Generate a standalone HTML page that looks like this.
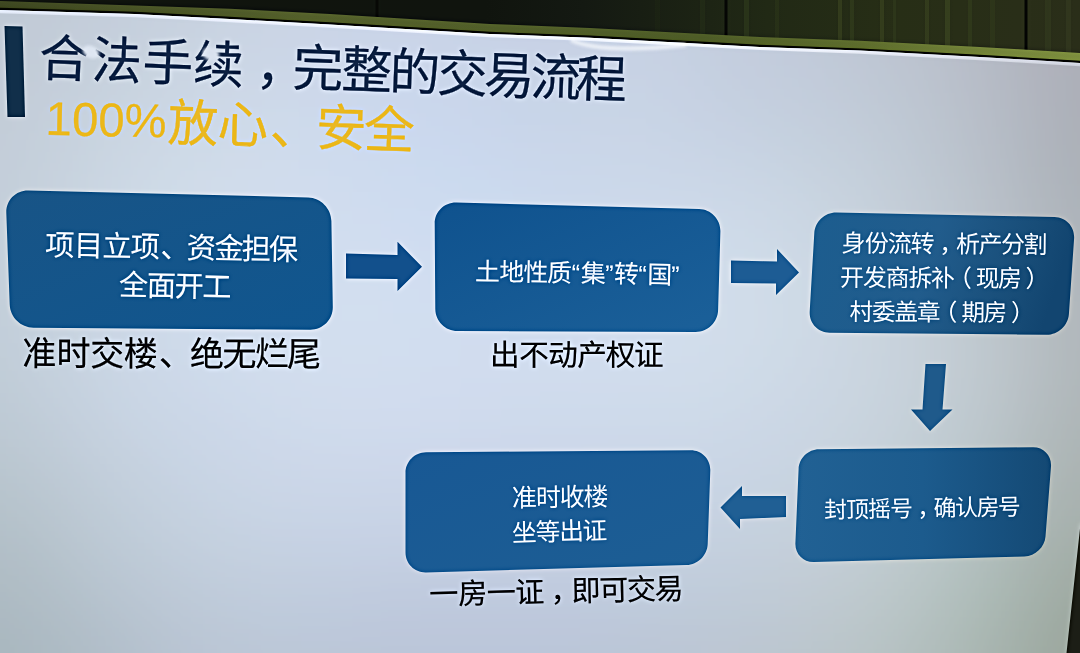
<!DOCTYPE html>
<html lang="zh"><head><meta charset="utf-8"><title>合法手续，完整的交易流程</title>
<style>
html,body{margin:0;padding:0;background:#10140b}
body{width:1080px;height:653px;overflow:hidden;position:relative;font-family:"Liberation Sans",sans-serif}
svg{position:absolute;left:0;top:0;display:block}
svg text{font-family:"Liberation Sans","Noto Sans CJK SC",sans-serif}
.t{position:absolute;white-space:nowrap;line-height:1;color:transparent;transform-origin:0 88%;margin:0}
</style></head><body>
<svg width="1080" height="653" viewBox="0 0 1080 653">
<defs>
<filter id="smudge" x="-50%" y="-50%" width="200%" height="200%"><feGaussianBlur stdDeviation="1.8"/></filter>
<linearGradient id="wall" gradientUnits="userSpaceOnUse" x1="0" y1="0" x2="1080" y2="0">
<stop offset="0" stop-color="#10140d"/><stop offset=".45" stop-color="#10140e"/><stop offset=".54" stop-color="#141912"/>
<stop offset=".71" stop-color="#212915"/><stop offset=".83" stop-color="#272e16"/><stop offset="1" stop-color="#2a2e19"/>
</linearGradient>
<linearGradient id="bezel" gradientUnits="userSpaceOnUse" x1="0" y1="0" x2="1080" y2="0">
<stop offset="0" stop-color="#3c4520"/><stop offset=".28" stop-color="#525e2a"/><stop offset=".65" stop-color="#4c5a26"/><stop offset=".8" stop-color="#5c6b2c"/><stop offset=".94" stop-color="#74843a"/><stop offset="1" stop-color="#7a8a3c"/>
</linearGradient>
<linearGradient id="edge" gradientUnits="userSpaceOnUse" x1="0" y1="0" x2="1080" y2="0"><stop offset="0" stop-color="#dce3f0"/><stop offset=".3" stop-color="#e8ecf8"/><stop offset=".65" stop-color="#eef2fa"/><stop offset=".85" stop-color="#dde1ea"/><stop offset="1" stop-color="#cbcfd8"/></linearGradient>
<linearGradient id="b1" x1="0" y1="0" x2="1" y2="1"><stop offset="0" stop-color="#185486"/><stop offset="1" stop-color="#10568f"/></linearGradient>
<linearGradient id="b2" x1="0" y1="0" x2="1" y2="1"><stop offset="0" stop-color="#0f528e"/><stop offset="1" stop-color="#1b6099"/></linearGradient>
<linearGradient id="b3" x1="0" y1="0" x2="1" y2="0.15"><stop offset="0" stop-color="#1c5d8f"/><stop offset=".5" stop-color="#215c8c"/><stop offset=".85" stop-color="#184d78"/><stop offset="1" stop-color="#124570"/></linearGradient>
<linearGradient id="b4" x1="0" y1="0" x2="1" y2="0"><stop offset="0" stop-color="#216194"/><stop offset=".5" stop-color="#1c5b8d"/><stop offset="1" stop-color="#144974"/></linearGradient>
<linearGradient id="b5" x1="0" y1="0" x2="1" y2="1"><stop offset="0" stop-color="#185894"/><stop offset="1" stop-color="#1d5e94"/></linearGradient>
<clipPath id="scrclip"><polygon points="-40.0,8.4 0.0,10.0 135.0,14.0 230.0,19.0 330.0,24.5 490.0,34.0 590.0,37.8 760.0,46.9 860.0,50.6 980.0,57.0 1080.0,63.0 1120.0,65.4 1120.0,693.0 -40.0,693.0"/></clipPath>
<filter id="bgblur" filterUnits="userSpaceOnUse" x="-120" y="-120" width="1320" height="900"><feGaussianBlur stdDeviation="30"/></filter>
<filter id="soft" filterUnits="userSpaceOnUse" x="-30" y="-30" width="1140" height="713" color-interpolation-filters="sRGB"><feGaussianBlur in="SourceGraphic" stdDeviation="0.7" result="a"/><feGaussianBlur in="a" stdDeviation="2" result="b"/><feComposite in="a" in2="b" operator="arithmetic" k1="0" k2="1.3" k3="-0.3" k4="0"/></filter>
</defs>
<g filter="url(#soft)">
<rect x="-40" y="-40" width="1160" height="120" fill="url(#wall)"/>
<rect x="744" y="-40" width="5" height="120" fill="#2e3a1c" opacity="0.60"/>
<rect x="775" y="-40" width="4" height="120" fill="#2c3619" opacity="0.50"/>
<rect x="838" y="-40" width="4" height="120" fill="#3a4520" opacity="0.60"/>
<rect x="850" y="-40" width="4" height="120" fill="#36411e" opacity="0.50"/>
<rect x="880" y="-40" width="4" height="120" fill="#3a4520" opacity="0.60"/>
<rect x="893" y="-40" width="3" height="120" fill="#323c1c" opacity="0.50"/>
<rect x="925" y="-40" width="4" height="120" fill="#3a4520" opacity="0.55"/>
<rect x="945" y="-40" width="5" height="120" fill="#3c4722" opacity="0.60"/>
<rect x="968" y="-40" width="4" height="120" fill="#343f1d" opacity="0.50"/>
<rect x="990" y="-40" width="5" height="120" fill="#323c1c" opacity="0.45"/>
<rect x="1045" y="-40" width="6" height="120" fill="#343b20" opacity="0.50"/>
<rect x="1066" y="-40" width="5" height="120" fill="#353c21" opacity="0.50"/>
<rect x="700" y="-40" width="5" height="120" fill="#262f17" opacity="0.50"/>
<rect x="655" y="-40" width="5" height="120" fill="#1e2613" opacity="0.50"/>
<rect x="375.5" y="-40" width="3" height="120" fill="#080a06"/>
<rect x="724.5" y="-40" width="3" height="120" fill="#080a06"/>
<rect x="1024.5" y="-40" width="3" height="120" fill="#080a06"/>
<polygon points="-40.0,-0.4 0.0,1.0 135.0,5.6 230.0,8.8 330.0,13.9 490.0,23.9 590.0,28.0 760.0,37.1 860.0,40.8 980.0,46.9 1080.0,52.9 1120.0,55.3 1120.0,64.2 1080.0,61.8 980.0,55.8 860.0,49.4 760.0,45.7 590.0,36.6 490.0,32.8 330.0,23.3 230.0,17.8 135.0,12.8 0.0,8.8 -40.0,7.2" fill="url(#bezel)"/>
<polygon points="-40.0,6.2 0.0,7.8 135.0,11.8 230.0,16.8 330.0,22.3 490.0,31.8 590.0,35.6 760.0,44.7 860.0,48.4 980.0,54.8 1080.0,60.8 1120.0,63.2 1120.0,65.4 1080.0,63.0 980.0,57.0 860.0,50.6 760.0,46.9 590.0,37.8 490.0,34.0 330.0,24.5 230.0,19.0 135.0,14.0 0.0,10.0 -40.0,8.4" fill="#15180f"/>
<g clip-path="url(#scrclip)"><g filter="url(#bgblur)"><rect x="-80" y="-80" width="41" height="41" fill="#bfc8d4"/><rect x="-40" y="-80" width="41" height="41" fill="#bfc8d4"/><rect x="0" y="-80" width="41" height="41" fill="#c0c9d5"/><rect x="40" y="-80" width="41" height="41" fill="#c1cbd7"/><rect x="80" y="-80" width="41" height="41" fill="#c3ccd9"/><rect x="120" y="-80" width="41" height="41" fill="#c5cedc"/><rect x="160" y="-80" width="41" height="41" fill="#c6d0de"/><rect x="200" y="-80" width="41" height="41" fill="#c8d1e0"/><rect x="240" y="-80" width="41" height="41" fill="#c9d2e2"/><rect x="280" y="-80" width="41" height="41" fill="#c9d3e4"/><rect x="320" y="-80" width="41" height="41" fill="#c9d3e5"/><rect x="360" y="-80" width="41" height="41" fill="#c9d3e6"/><rect x="400" y="-80" width="41" height="41" fill="#c9d2e6"/><rect x="440" y="-80" width="41" height="41" fill="#c8d2e5"/><rect x="480" y="-80" width="41" height="41" fill="#c7d1e5"/><rect x="520" y="-80" width="41" height="41" fill="#c7d1e4"/><rect x="560" y="-80" width="41" height="41" fill="#c7d0e3"/><rect x="600" y="-80" width="41" height="41" fill="#c6d0e2"/><rect x="640" y="-80" width="41" height="41" fill="#c5cfe0"/><rect x="680" y="-80" width="41" height="41" fill="#c4cdde"/><rect x="720" y="-80" width="41" height="41" fill="#c3cbdc"/><rect x="760" y="-80" width="41" height="41" fill="#c1c9d9"/><rect x="800" y="-80" width="41" height="41" fill="#bfc7d6"/><rect x="840" y="-80" width="41" height="41" fill="#bec4d3"/><rect x="880" y="-80" width="41" height="41" fill="#bbc1cf"/><rect x="920" y="-80" width="41" height="41" fill="#b9beca"/><rect x="960" y="-80" width="41" height="41" fill="#b5b9c5"/><rect x="1000" y="-80" width="41" height="41" fill="#b2b4bf"/><rect x="1040" y="-80" width="41" height="41" fill="#aeafb9"/><rect x="1080" y="-80" width="41" height="41" fill="#acadb6"/><rect x="1120" y="-80" width="41" height="41" fill="#acadb6"/><rect x="-80" y="-40" width="41" height="41" fill="#bfc8d4"/><rect x="-40" y="-40" width="41" height="41" fill="#bfc8d4"/><rect x="0" y="-40" width="41" height="41" fill="#c0c9d5"/><rect x="40" y="-40" width="41" height="41" fill="#c1cbd7"/><rect x="80" y="-40" width="41" height="41" fill="#c3ccd9"/><rect x="120" y="-40" width="41" height="41" fill="#c5cedc"/><rect x="160" y="-40" width="41" height="41" fill="#c6d0de"/><rect x="200" y="-40" width="41" height="41" fill="#c8d1e0"/><rect x="240" y="-40" width="41" height="41" fill="#c9d2e2"/><rect x="280" y="-40" width="41" height="41" fill="#c9d3e4"/><rect x="320" y="-40" width="41" height="41" fill="#c9d3e5"/><rect x="360" y="-40" width="41" height="41" fill="#c9d3e6"/><rect x="400" y="-40" width="41" height="41" fill="#c9d2e6"/><rect x="440" y="-40" width="41" height="41" fill="#c8d2e5"/><rect x="480" y="-40" width="41" height="41" fill="#c7d1e5"/><rect x="520" y="-40" width="41" height="41" fill="#c7d1e4"/><rect x="560" y="-40" width="41" height="41" fill="#c7d0e3"/><rect x="600" y="-40" width="41" height="41" fill="#c6d0e2"/><rect x="640" y="-40" width="41" height="41" fill="#c5cfe0"/><rect x="680" y="-40" width="41" height="41" fill="#c4cdde"/><rect x="720" y="-40" width="41" height="41" fill="#c3cbdc"/><rect x="760" y="-40" width="41" height="41" fill="#c1c9d9"/><rect x="800" y="-40" width="41" height="41" fill="#bfc7d6"/><rect x="840" y="-40" width="41" height="41" fill="#bec4d3"/><rect x="880" y="-40" width="41" height="41" fill="#bbc1cf"/><rect x="920" y="-40" width="41" height="41" fill="#b9beca"/><rect x="960" y="-40" width="41" height="41" fill="#b5b9c5"/><rect x="1000" y="-40" width="41" height="41" fill="#b2b4bf"/><rect x="1040" y="-40" width="41" height="41" fill="#aeafb9"/><rect x="1080" y="-40" width="41" height="41" fill="#acadb6"/><rect x="1120" y="-40" width="41" height="41" fill="#acadb6"/><rect x="-80" y="0" width="41" height="41" fill="#c0c9d5"/><rect x="-40" y="0" width="41" height="41" fill="#c0c9d5"/><rect x="0" y="0" width="41" height="41" fill="#c0cad6"/><rect x="40" y="0" width="41" height="41" fill="#c2ccd8"/><rect x="80" y="0" width="41" height="41" fill="#c4cdda"/><rect x="120" y="0" width="41" height="41" fill="#c5cfdd"/><rect x="160" y="0" width="41" height="41" fill="#c7d1df"/><rect x="200" y="0" width="41" height="41" fill="#c9d3e1"/><rect x="240" y="0" width="41" height="41" fill="#cad4e3"/><rect x="280" y="0" width="41" height="41" fill="#cad4e5"/><rect x="320" y="0" width="41" height="41" fill="#cad4e6"/><rect x="360" y="0" width="41" height="41" fill="#cad4e7"/><rect x="400" y="0" width="41" height="41" fill="#c9d3e7"/><rect x="440" y="0" width="41" height="41" fill="#c8d3e6"/><rect x="480" y="0" width="41" height="41" fill="#c8d2e5"/><rect x="520" y="0" width="41" height="41" fill="#c7d1e4"/><rect x="560" y="0" width="41" height="41" fill="#c7d1e4"/><rect x="600" y="0" width="41" height="41" fill="#c7d1e3"/><rect x="640" y="0" width="41" height="41" fill="#c6d0e1"/><rect x="680" y="0" width="41" height="41" fill="#c5cedf"/><rect x="720" y="0" width="41" height="41" fill="#c3ccdd"/><rect x="760" y="0" width="41" height="41" fill="#c1cada"/><rect x="800" y="0" width="41" height="41" fill="#c0c8d7"/><rect x="840" y="0" width="41" height="41" fill="#bec6d3"/><rect x="880" y="0" width="41" height="41" fill="#bcc2cf"/><rect x="920" y="0" width="41" height="41" fill="#b9bfcb"/><rect x="960" y="0" width="41" height="41" fill="#b6bac5"/><rect x="1000" y="0" width="41" height="41" fill="#b2b5c0"/><rect x="1040" y="0" width="41" height="41" fill="#aeb0ba"/><rect x="1080" y="0" width="41" height="41" fill="#acadb7"/><rect x="1120" y="0" width="41" height="41" fill="#acadb7"/><rect x="-80" y="40" width="41" height="41" fill="#c0cad6"/><rect x="-40" y="40" width="41" height="41" fill="#c0cad6"/><rect x="0" y="40" width="41" height="41" fill="#c2cbd7"/><rect x="40" y="40" width="41" height="41" fill="#c4cdda"/><rect x="80" y="40" width="41" height="41" fill="#c5d0dc"/><rect x="120" y="40" width="41" height="41" fill="#c7d2df"/><rect x="160" y="40" width="41" height="41" fill="#c9d4e1"/><rect x="200" y="40" width="41" height="41" fill="#cbd5e4"/><rect x="240" y="40" width="41" height="41" fill="#cbd6e6"/><rect x="280" y="40" width="41" height="41" fill="#ccd6e7"/><rect x="320" y="40" width="41" height="41" fill="#cbd6e9"/><rect x="360" y="40" width="41" height="41" fill="#cbd6e9"/><rect x="400" y="40" width="41" height="41" fill="#cad5e9"/><rect x="440" y="40" width="41" height="41" fill="#c9d4e8"/><rect x="480" y="40" width="41" height="41" fill="#c8d3e7"/><rect x="520" y="40" width="41" height="41" fill="#c8d3e6"/><rect x="560" y="40" width="41" height="41" fill="#c8d3e5"/><rect x="600" y="40" width="41" height="41" fill="#c8d2e4"/><rect x="640" y="40" width="41" height="41" fill="#c7d2e3"/><rect x="680" y="40" width="41" height="41" fill="#c5d0e1"/><rect x="720" y="40" width="41" height="41" fill="#c4cdde"/><rect x="760" y="40" width="41" height="41" fill="#c2ccdc"/><rect x="800" y="40" width="41" height="41" fill="#c1cad9"/><rect x="840" y="40" width="41" height="41" fill="#bfc8d5"/><rect x="880" y="40" width="41" height="41" fill="#bdc5d1"/><rect x="920" y="40" width="41" height="41" fill="#bac1cc"/><rect x="960" y="40" width="41" height="41" fill="#b6bcc7"/><rect x="1000" y="40" width="41" height="41" fill="#b2b6c0"/><rect x="1040" y="40" width="41" height="41" fill="#aeb0ba"/><rect x="1080" y="40" width="41" height="41" fill="#acaeb7"/><rect x="1120" y="40" width="41" height="41" fill="#acaeb7"/><rect x="-80" y="80" width="41" height="41" fill="#c1cbd7"/><rect x="-40" y="80" width="41" height="41" fill="#c1cbd7"/><rect x="0" y="80" width="41" height="41" fill="#c3cdd8"/><rect x="40" y="80" width="41" height="41" fill="#c5cfdb"/><rect x="80" y="80" width="41" height="41" fill="#c8d2de"/><rect x="120" y="80" width="41" height="41" fill="#cad5e1"/><rect x="160" y="80" width="41" height="41" fill="#ccd7e4"/><rect x="200" y="80" width="41" height="41" fill="#cdd8e6"/><rect x="240" y="80" width="41" height="41" fill="#cdd9e8"/><rect x="280" y="80" width="41" height="41" fill="#cdd9ea"/><rect x="320" y="80" width="41" height="41" fill="#ccd8eb"/><rect x="360" y="80" width="41" height="41" fill="#cbd8ec"/><rect x="400" y="80" width="41" height="41" fill="#cad7ec"/><rect x="440" y="80" width="41" height="41" fill="#c9d6eb"/><rect x="480" y="80" width="41" height="41" fill="#c8d5e9"/><rect x="520" y="80" width="41" height="41" fill="#c8d4e7"/><rect x="560" y="80" width="41" height="41" fill="#c8d4e6"/><rect x="600" y="80" width="41" height="41" fill="#c8d4e5"/><rect x="640" y="80" width="41" height="41" fill="#c8d3e4"/><rect x="680" y="80" width="41" height="41" fill="#c6d1e2"/><rect x="720" y="80" width="41" height="41" fill="#c5cfe0"/><rect x="760" y="80" width="41" height="41" fill="#c3cedd"/><rect x="800" y="80" width="41" height="41" fill="#c2ccdb"/><rect x="840" y="80" width="41" height="41" fill="#c1cad7"/><rect x="880" y="80" width="41" height="41" fill="#bec7d3"/><rect x="920" y="80" width="41" height="41" fill="#bbc3ce"/><rect x="960" y="80" width="41" height="41" fill="#b7bdc8"/><rect x="1000" y="80" width="41" height="41" fill="#b2b7c1"/><rect x="1040" y="80" width="41" height="41" fill="#adb1ba"/><rect x="1080" y="80" width="41" height="41" fill="#abaeb6"/><rect x="1120" y="80" width="41" height="41" fill="#abaeb6"/><rect x="-80" y="120" width="41" height="41" fill="#c2ccd8"/><rect x="-40" y="120" width="41" height="41" fill="#c2ccd8"/><rect x="0" y="120" width="41" height="41" fill="#c4ced9"/><rect x="40" y="120" width="41" height="41" fill="#c6d1dd"/><rect x="80" y="120" width="41" height="41" fill="#c9d4e0"/><rect x="120" y="120" width="41" height="41" fill="#ccd7e3"/><rect x="160" y="120" width="41" height="41" fill="#ced9e6"/><rect x="200" y="120" width="41" height="41" fill="#cfdae8"/><rect x="240" y="120" width="41" height="41" fill="#cfdbea"/><rect x="280" y="120" width="41" height="41" fill="#cedbec"/><rect x="320" y="120" width="41" height="41" fill="#cedaed"/><rect x="360" y="120" width="41" height="41" fill="#ccd9ee"/><rect x="400" y="120" width="41" height="41" fill="#cbd9ee"/><rect x="440" y="120" width="41" height="41" fill="#cad8ed"/><rect x="480" y="120" width="41" height="41" fill="#c9d6eb"/><rect x="520" y="120" width="41" height="41" fill="#c9d6e9"/><rect x="560" y="120" width="41" height="41" fill="#c9d6e8"/><rect x="600" y="120" width="41" height="41" fill="#cad5e7"/><rect x="640" y="120" width="41" height="41" fill="#c9d5e6"/><rect x="680" y="120" width="41" height="41" fill="#c8d3e4"/><rect x="720" y="120" width="41" height="41" fill="#c7d2e2"/><rect x="760" y="120" width="41" height="41" fill="#c5d1e0"/><rect x="800" y="120" width="41" height="41" fill="#c4cfdd"/><rect x="840" y="120" width="41" height="41" fill="#c2cdd9"/><rect x="880" y="120" width="41" height="41" fill="#c0c9d5"/><rect x="920" y="120" width="41" height="41" fill="#bcc5cf"/><rect x="960" y="120" width="41" height="41" fill="#b8bfc9"/><rect x="1000" y="120" width="41" height="41" fill="#b2b8c2"/><rect x="1040" y="120" width="41" height="41" fill="#acb2ba"/><rect x="1080" y="120" width="41" height="41" fill="#aaafb6"/><rect x="1120" y="120" width="41" height="41" fill="#aaafb6"/><rect x="-80" y="160" width="41" height="41" fill="#c2cdd8"/><rect x="-40" y="160" width="41" height="41" fill="#c2cdd8"/><rect x="0" y="160" width="41" height="41" fill="#c4cfda"/><rect x="40" y="160" width="41" height="41" fill="#c7d2de"/><rect x="80" y="160" width="41" height="41" fill="#cad6e2"/><rect x="120" y="160" width="41" height="41" fill="#cdd9e5"/><rect x="160" y="160" width="41" height="41" fill="#cfdbe8"/><rect x="200" y="160" width="41" height="41" fill="#d0dcea"/><rect x="240" y="160" width="41" height="41" fill="#d0dcec"/><rect x="280" y="160" width="41" height="41" fill="#d0dced"/><rect x="320" y="160" width="41" height="41" fill="#cfdcee"/><rect x="360" y="160" width="41" height="41" fill="#cedbef"/><rect x="400" y="160" width="41" height="41" fill="#ccdaf0"/><rect x="440" y="160" width="41" height="41" fill="#cbdaef"/><rect x="480" y="160" width="41" height="41" fill="#cbd9ed"/><rect x="520" y="160" width="41" height="41" fill="#cbd8ec"/><rect x="560" y="160" width="41" height="41" fill="#cbd8ea"/><rect x="600" y="160" width="41" height="41" fill="#cbd8e9"/><rect x="640" y="160" width="41" height="41" fill="#cbd7e8"/><rect x="680" y="160" width="41" height="41" fill="#cbd7e7"/><rect x="720" y="160" width="41" height="41" fill="#cad6e5"/><rect x="760" y="160" width="41" height="41" fill="#c9d5e2"/><rect x="800" y="160" width="41" height="41" fill="#c7d2df"/><rect x="840" y="160" width="41" height="41" fill="#c5d0db"/><rect x="880" y="160" width="41" height="41" fill="#c2ccd7"/><rect x="920" y="160" width="41" height="41" fill="#bec7d1"/><rect x="960" y="160" width="41" height="41" fill="#b9c1ca"/><rect x="1000" y="160" width="41" height="41" fill="#b3bac2"/><rect x="1040" y="160" width="41" height="41" fill="#adb3ba"/><rect x="1080" y="160" width="41" height="41" fill="#aab0b7"/><rect x="1120" y="160" width="41" height="41" fill="#aab0b7"/><rect x="-80" y="200" width="41" height="41" fill="#c3ced9"/><rect x="-40" y="200" width="41" height="41" fill="#c3ced9"/><rect x="0" y="200" width="41" height="41" fill="#c4d0db"/><rect x="40" y="200" width="41" height="41" fill="#c8d3df"/><rect x="80" y="200" width="41" height="41" fill="#cbd7e3"/><rect x="120" y="200" width="41" height="41" fill="#cedae6"/><rect x="160" y="200" width="41" height="41" fill="#d0dce9"/><rect x="200" y="200" width="41" height="41" fill="#d1ddeb"/><rect x="240" y="200" width="41" height="41" fill="#d1deed"/><rect x="280" y="200" width="41" height="41" fill="#d1deee"/><rect x="320" y="200" width="41" height="41" fill="#d0ddef"/><rect x="360" y="200" width="41" height="41" fill="#cfdcf0"/><rect x="400" y="200" width="41" height="41" fill="#cedcf0"/><rect x="440" y="200" width="41" height="41" fill="#cddbf0"/><rect x="480" y="200" width="41" height="41" fill="#cddbef"/><rect x="520" y="200" width="41" height="41" fill="#cddaed"/><rect x="560" y="200" width="41" height="41" fill="#cddaec"/><rect x="600" y="200" width="41" height="41" fill="#cedaeb"/><rect x="640" y="200" width="41" height="41" fill="#cedaea"/><rect x="680" y="200" width="41" height="41" fill="#cedae9"/><rect x="720" y="200" width="41" height="41" fill="#cdd9e7"/><rect x="760" y="200" width="41" height="41" fill="#ccd8e5"/><rect x="800" y="200" width="41" height="41" fill="#cad5e2"/><rect x="840" y="200" width="41" height="41" fill="#c7d2dd"/><rect x="880" y="200" width="41" height="41" fill="#c4ced8"/><rect x="920" y="200" width="41" height="41" fill="#c0c9d2"/><rect x="960" y="200" width="41" height="41" fill="#bbc3cc"/><rect x="1000" y="200" width="41" height="41" fill="#b5bcc4"/><rect x="1040" y="200" width="41" height="41" fill="#afb5bc"/><rect x="1080" y="200" width="41" height="41" fill="#acb2b8"/><rect x="1120" y="200" width="41" height="41" fill="#acb2b8"/><rect x="-80" y="240" width="41" height="41" fill="#c3ced9"/><rect x="-40" y="240" width="41" height="41" fill="#c3ced9"/><rect x="0" y="240" width="41" height="41" fill="#c4d0db"/><rect x="40" y="240" width="41" height="41" fill="#c8d3e0"/><rect x="80" y="240" width="41" height="41" fill="#cbd7e4"/><rect x="120" y="240" width="41" height="41" fill="#cedae7"/><rect x="160" y="240" width="41" height="41" fill="#d0dcea"/><rect x="200" y="240" width="41" height="41" fill="#d1ddec"/><rect x="240" y="240" width="41" height="41" fill="#d2deee"/><rect x="280" y="240" width="41" height="41" fill="#d2deef"/><rect x="320" y="240" width="41" height="41" fill="#d1deef"/><rect x="360" y="240" width="41" height="41" fill="#d1def0"/><rect x="400" y="240" width="41" height="41" fill="#d0ddf0"/><rect x="440" y="240" width="41" height="41" fill="#cfddf0"/><rect x="480" y="240" width="41" height="41" fill="#cfdcef"/><rect x="520" y="240" width="41" height="41" fill="#cfdcee"/><rect x="560" y="240" width="41" height="41" fill="#cfdced"/><rect x="600" y="240" width="41" height="41" fill="#cfdcec"/><rect x="640" y="240" width="41" height="41" fill="#d0dcec"/><rect x="680" y="240" width="41" height="41" fill="#d0dceb"/><rect x="720" y="240" width="41" height="41" fill="#cfdce9"/><rect x="760" y="240" width="41" height="41" fill="#cedae7"/><rect x="800" y="240" width="41" height="41" fill="#ccd8e3"/><rect x="840" y="240" width="41" height="41" fill="#c9d4df"/><rect x="880" y="240" width="41" height="41" fill="#c6d0da"/><rect x="920" y="240" width="41" height="41" fill="#c2cbd4"/><rect x="960" y="240" width="41" height="41" fill="#bdc5cd"/><rect x="1000" y="240" width="41" height="41" fill="#b7bfc5"/><rect x="1040" y="240" width="41" height="41" fill="#b1b7bd"/><rect x="1080" y="240" width="41" height="41" fill="#adb4b9"/><rect x="1120" y="240" width="41" height="41" fill="#adb4b9"/><rect x="-80" y="280" width="41" height="41" fill="#c2ced9"/><rect x="-40" y="280" width="41" height="41" fill="#c2ced9"/><rect x="0" y="280" width="41" height="41" fill="#c4d0db"/><rect x="40" y="280" width="41" height="41" fill="#c7d3e0"/><rect x="80" y="280" width="41" height="41" fill="#cbd6e4"/><rect x="120" y="280" width="41" height="41" fill="#cdd9e7"/><rect x="160" y="280" width="41" height="41" fill="#cfdbea"/><rect x="200" y="280" width="41" height="41" fill="#d1ddec"/><rect x="240" y="280" width="41" height="41" fill="#d2deee"/><rect x="280" y="280" width="41" height="41" fill="#d2dfef"/><rect x="320" y="280" width="41" height="41" fill="#d2dfef"/><rect x="360" y="280" width="41" height="41" fill="#d2dff0"/><rect x="400" y="280" width="41" height="41" fill="#d1def0"/><rect x="440" y="280" width="41" height="41" fill="#d0ddf0"/><rect x="480" y="280" width="41" height="41" fill="#d0ddef"/><rect x="520" y="280" width="41" height="41" fill="#d0ddef"/><rect x="560" y="280" width="41" height="41" fill="#d0ddee"/><rect x="600" y="280" width="41" height="41" fill="#d1dded"/><rect x="640" y="280" width="41" height="41" fill="#d1deed"/><rect x="680" y="280" width="41" height="41" fill="#d1ddeb"/><rect x="720" y="280" width="41" height="41" fill="#d1ddea"/><rect x="760" y="280" width="41" height="41" fill="#cfdbe7"/><rect x="800" y="280" width="41" height="41" fill="#cdd9e4"/><rect x="840" y="280" width="41" height="41" fill="#cbd6e0"/><rect x="880" y="280" width="41" height="41" fill="#c8d2db"/><rect x="920" y="280" width="41" height="41" fill="#c4cdd5"/><rect x="960" y="280" width="41" height="41" fill="#bfc8ce"/><rect x="1000" y="280" width="41" height="41" fill="#b9c1c6"/><rect x="1040" y="280" width="41" height="41" fill="#b2b9be"/><rect x="1080" y="280" width="41" height="41" fill="#afb5b9"/><rect x="1120" y="280" width="41" height="41" fill="#afb5b9"/><rect x="-80" y="320" width="41" height="41" fill="#c1cdd8"/><rect x="-40" y="320" width="41" height="41" fill="#c1cdd8"/><rect x="0" y="320" width="41" height="41" fill="#c3cfda"/><rect x="40" y="320" width="41" height="41" fill="#c6d2df"/><rect x="80" y="320" width="41" height="41" fill="#cad5e3"/><rect x="120" y="320" width="41" height="41" fill="#ccd8e7"/><rect x="160" y="320" width="41" height="41" fill="#cedaea"/><rect x="200" y="320" width="41" height="41" fill="#d0dcec"/><rect x="240" y="320" width="41" height="41" fill="#d1dded"/><rect x="280" y="320" width="41" height="41" fill="#d2deee"/><rect x="320" y="320" width="41" height="41" fill="#d3dfef"/><rect x="360" y="320" width="41" height="41" fill="#d2dfef"/><rect x="400" y="320" width="41" height="41" fill="#d2def0"/><rect x="440" y="320" width="41" height="41" fill="#d1ddef"/><rect x="480" y="320" width="41" height="41" fill="#d1ddef"/><rect x="520" y="320" width="41" height="41" fill="#d0ddee"/><rect x="560" y="320" width="41" height="41" fill="#d1ddee"/><rect x="600" y="320" width="41" height="41" fill="#d1dded"/><rect x="640" y="320" width="41" height="41" fill="#d1deed"/><rect x="680" y="320" width="41" height="41" fill="#d1deeb"/><rect x="720" y="320" width="41" height="41" fill="#d0dce9"/><rect x="760" y="320" width="41" height="41" fill="#cfdbe7"/><rect x="800" y="320" width="41" height="41" fill="#cdd8e4"/><rect x="840" y="320" width="41" height="41" fill="#cbd6e1"/><rect x="880" y="320" width="41" height="41" fill="#c8d2dc"/><rect x="920" y="320" width="41" height="41" fill="#c5ced6"/><rect x="960" y="320" width="41" height="41" fill="#c0c9cf"/><rect x="1000" y="320" width="41" height="41" fill="#bac2c7"/><rect x="1040" y="320" width="41" height="41" fill="#b2babe"/><rect x="1080" y="320" width="41" height="41" fill="#afb6b9"/><rect x="1120" y="320" width="41" height="41" fill="#afb6b9"/><rect x="-80" y="360" width="41" height="41" fill="#bfcbd6"/><rect x="-40" y="360" width="41" height="41" fill="#bfcbd6"/><rect x="0" y="360" width="41" height="41" fill="#c1cdd9"/><rect x="40" y="360" width="41" height="41" fill="#c5d1de"/><rect x="80" y="360" width="41" height="41" fill="#c8d4e2"/><rect x="120" y="360" width="41" height="41" fill="#cbd7e6"/><rect x="160" y="360" width="41" height="41" fill="#cdd9e9"/><rect x="200" y="360" width="41" height="41" fill="#cedaeb"/><rect x="240" y="360" width="41" height="41" fill="#d0dcec"/><rect x="280" y="360" width="41" height="41" fill="#d1dded"/><rect x="320" y="360" width="41" height="41" fill="#d2ddee"/><rect x="360" y="360" width="41" height="41" fill="#d2ddee"/><rect x="400" y="360" width="41" height="41" fill="#d1ddef"/><rect x="440" y="360" width="41" height="41" fill="#d1dcee"/><rect x="480" y="360" width="41" height="41" fill="#d0dcee"/><rect x="520" y="360" width="41" height="41" fill="#d0dced"/><rect x="560" y="360" width="41" height="41" fill="#d0dced"/><rect x="600" y="360" width="41" height="41" fill="#d0dcec"/><rect x="640" y="360" width="41" height="41" fill="#d0dceb"/><rect x="680" y="360" width="41" height="41" fill="#d0dcea"/><rect x="720" y="360" width="41" height="41" fill="#cfdbe8"/><rect x="760" y="360" width="41" height="41" fill="#cdd9e6"/><rect x="800" y="360" width="41" height="41" fill="#ccd7e3"/><rect x="840" y="360" width="41" height="41" fill="#cad5e0"/><rect x="880" y="360" width="41" height="41" fill="#c8d2dc"/><rect x="920" y="360" width="41" height="41" fill="#c4ced6"/><rect x="960" y="360" width="41" height="41" fill="#bfc9cf"/><rect x="1000" y="360" width="41" height="41" fill="#b9c1c7"/><rect x="1040" y="360" width="41" height="41" fill="#b2b9bd"/><rect x="1080" y="360" width="41" height="41" fill="#aeb5b8"/><rect x="1120" y="360" width="41" height="41" fill="#aeb5b8"/><rect x="-80" y="400" width="41" height="41" fill="#bcc9d3"/><rect x="-40" y="400" width="41" height="41" fill="#bcc9d3"/><rect x="0" y="400" width="41" height="41" fill="#bfcbd6"/><rect x="40" y="400" width="41" height="41" fill="#c2cedb"/><rect x="80" y="400" width="41" height="41" fill="#c6d2e0"/><rect x="120" y="400" width="41" height="41" fill="#c9d5e4"/><rect x="160" y="400" width="41" height="41" fill="#cbd7e6"/><rect x="200" y="400" width="41" height="41" fill="#ccd8e9"/><rect x="240" y="400" width="41" height="41" fill="#cedaea"/><rect x="280" y="400" width="41" height="41" fill="#cfdbec"/><rect x="320" y="400" width="41" height="41" fill="#d0dbec"/><rect x="360" y="400" width="41" height="41" fill="#d0dbed"/><rect x="400" y="400" width="41" height="41" fill="#d0dbed"/><rect x="440" y="400" width="41" height="41" fill="#cfdaed"/><rect x="480" y="400" width="41" height="41" fill="#cfdaec"/><rect x="520" y="400" width="41" height="41" fill="#cedaeb"/><rect x="560" y="400" width="41" height="41" fill="#cedaeb"/><rect x="600" y="400" width="41" height="41" fill="#cedaea"/><rect x="640" y="400" width="41" height="41" fill="#cedaea"/><rect x="680" y="400" width="41" height="41" fill="#cedae8"/><rect x="720" y="400" width="41" height="41" fill="#cdd9e7"/><rect x="760" y="400" width="41" height="41" fill="#ccd7e5"/><rect x="800" y="400" width="41" height="41" fill="#cad6e2"/><rect x="840" y="400" width="41" height="41" fill="#c9d4df"/><rect x="880" y="400" width="41" height="41" fill="#c6d1da"/><rect x="920" y="400" width="41" height="41" fill="#c2cdd4"/><rect x="960" y="400" width="41" height="41" fill="#bdc7cd"/><rect x="1000" y="400" width="41" height="41" fill="#b6c0c4"/><rect x="1040" y="400" width="41" height="41" fill="#b0b8ba"/><rect x="1080" y="400" width="41" height="41" fill="#acb4b5"/><rect x="1120" y="400" width="41" height="41" fill="#acb4b5"/><rect x="-80" y="440" width="41" height="41" fill="#b9c6cf"/><rect x="-40" y="440" width="41" height="41" fill="#b9c6cf"/><rect x="0" y="440" width="41" height="41" fill="#bbc8d1"/><rect x="40" y="440" width="41" height="41" fill="#bfcbd7"/><rect x="80" y="440" width="41" height="41" fill="#c3cfdc"/><rect x="120" y="440" width="41" height="41" fill="#c6d2e0"/><rect x="160" y="440" width="41" height="41" fill="#c8d4e4"/><rect x="200" y="440" width="41" height="41" fill="#cad6e6"/><rect x="240" y="440" width="41" height="41" fill="#ccd7e8"/><rect x="280" y="440" width="41" height="41" fill="#cdd8e9"/><rect x="320" y="440" width="41" height="41" fill="#cdd9ea"/><rect x="360" y="440" width="41" height="41" fill="#cdd8eb"/><rect x="400" y="440" width="41" height="41" fill="#cdd8eb"/><rect x="440" y="440" width="41" height="41" fill="#cdd8ea"/><rect x="480" y="440" width="41" height="41" fill="#ccd7ea"/><rect x="520" y="440" width="41" height="41" fill="#ccd7e9"/><rect x="560" y="440" width="41" height="41" fill="#ccd7e9"/><rect x="600" y="440" width="41" height="41" fill="#ccd7e8"/><rect x="640" y="440" width="41" height="41" fill="#cbd7e7"/><rect x="680" y="440" width="41" height="41" fill="#cbd7e6"/><rect x="720" y="440" width="41" height="41" fill="#cad6e5"/><rect x="760" y="440" width="41" height="41" fill="#c9d5e3"/><rect x="800" y="440" width="41" height="41" fill="#c9d4e0"/><rect x="840" y="440" width="41" height="41" fill="#c7d2dc"/><rect x="880" y="440" width="41" height="41" fill="#c4cfd7"/><rect x="920" y="440" width="41" height="41" fill="#bfcbd1"/><rect x="960" y="440" width="41" height="41" fill="#bac5c9"/><rect x="1000" y="440" width="41" height="41" fill="#b4bec0"/><rect x="1040" y="440" width="41" height="41" fill="#adb6b6"/><rect x="1080" y="440" width="41" height="41" fill="#aab2b2"/><rect x="1120" y="440" width="41" height="41" fill="#aab2b2"/><rect x="-80" y="480" width="41" height="41" fill="#b5c2ca"/><rect x="-40" y="480" width="41" height="41" fill="#b5c2ca"/><rect x="0" y="480" width="41" height="41" fill="#b7c4cd"/><rect x="40" y="480" width="41" height="41" fill="#bbc8d2"/><rect x="80" y="480" width="41" height="41" fill="#c0ccd8"/><rect x="120" y="480" width="41" height="41" fill="#c3cfdd"/><rect x="160" y="480" width="41" height="41" fill="#c6d2e1"/><rect x="200" y="480" width="41" height="41" fill="#c8d4e3"/><rect x="240" y="480" width="41" height="41" fill="#c9d5e5"/><rect x="280" y="480" width="41" height="41" fill="#cad5e7"/><rect x="320" y="480" width="41" height="41" fill="#cad5e7"/><rect x="360" y="480" width="41" height="41" fill="#cad5e7"/><rect x="400" y="480" width="41" height="41" fill="#cad5e7"/><rect x="440" y="480" width="41" height="41" fill="#c9d4e7"/><rect x="480" y="480" width="41" height="41" fill="#c9d4e7"/><rect x="520" y="480" width="41" height="41" fill="#c9d4e7"/><rect x="560" y="480" width="41" height="41" fill="#c9d4e6"/><rect x="600" y="480" width="41" height="41" fill="#c9d4e5"/><rect x="640" y="480" width="41" height="41" fill="#c8d4e5"/><rect x="680" y="480" width="41" height="41" fill="#c8d4e4"/><rect x="720" y="480" width="41" height="41" fill="#c8d3e2"/><rect x="760" y="480" width="41" height="41" fill="#c7d3e0"/><rect x="800" y="480" width="41" height="41" fill="#c7d2dd"/><rect x="840" y="480" width="41" height="41" fill="#c5d0d9"/><rect x="880" y="480" width="41" height="41" fill="#c1cdd3"/><rect x="920" y="480" width="41" height="41" fill="#bdc9cd"/><rect x="960" y="480" width="41" height="41" fill="#b7c2c4"/><rect x="1000" y="480" width="41" height="41" fill="#b0bbbb"/><rect x="1040" y="480" width="41" height="41" fill="#aab4b2"/><rect x="1080" y="480" width="41" height="41" fill="#a7b0ad"/><rect x="1120" y="480" width="41" height="41" fill="#a7b0ad"/><rect x="-80" y="520" width="41" height="41" fill="#b2bfc7"/><rect x="-40" y="520" width="41" height="41" fill="#b2bfc7"/><rect x="0" y="520" width="41" height="41" fill="#b3c0c9"/><rect x="40" y="520" width="41" height="41" fill="#b8c4ce"/><rect x="80" y="520" width="41" height="41" fill="#bcc9d4"/><rect x="120" y="520" width="41" height="41" fill="#c0cdd9"/><rect x="160" y="520" width="41" height="41" fill="#c3cfdd"/><rect x="200" y="520" width="41" height="41" fill="#c5d1e0"/><rect x="240" y="520" width="41" height="41" fill="#c6d2e2"/><rect x="280" y="520" width="41" height="41" fill="#c6d2e3"/><rect x="320" y="520" width="41" height="41" fill="#c6d2e4"/><rect x="360" y="520" width="41" height="41" fill="#c6d1e4"/><rect x="400" y="520" width="41" height="41" fill="#c6d1e4"/><rect x="440" y="520" width="41" height="41" fill="#c5d0e4"/><rect x="480" y="520" width="41" height="41" fill="#c5d0e4"/><rect x="520" y="520" width="41" height="41" fill="#c5d0e3"/><rect x="560" y="520" width="41" height="41" fill="#c5d0e3"/><rect x="600" y="520" width="41" height="41" fill="#c5d0e2"/><rect x="640" y="520" width="41" height="41" fill="#c5d0e1"/><rect x="680" y="520" width="41" height="41" fill="#c5d0e0"/><rect x="720" y="520" width="41" height="41" fill="#c5d0de"/><rect x="760" y="520" width="41" height="41" fill="#c5d0dc"/><rect x="800" y="520" width="41" height="41" fill="#c4cfd9"/><rect x="840" y="520" width="41" height="41" fill="#c3ced5"/><rect x="880" y="520" width="41" height="41" fill="#bfcbcf"/><rect x="920" y="520" width="41" height="41" fill="#bac6c8"/><rect x="960" y="520" width="41" height="41" fill="#b3c0bf"/><rect x="1000" y="520" width="41" height="41" fill="#acb8b6"/><rect x="1040" y="520" width="41" height="41" fill="#a6b0ac"/><rect x="1080" y="520" width="41" height="41" fill="#a3ada8"/><rect x="1120" y="520" width="41" height="41" fill="#a3ada8"/><rect x="-80" y="560" width="41" height="41" fill="#aebbc3"/><rect x="-40" y="560" width="41" height="41" fill="#aebbc3"/><rect x="0" y="560" width="41" height="41" fill="#b0bdc5"/><rect x="40" y="560" width="41" height="41" fill="#b4c1ca"/><rect x="80" y="560" width="41" height="41" fill="#b8c5d0"/><rect x="120" y="560" width="41" height="41" fill="#bcc8d5"/><rect x="160" y="560" width="41" height="41" fill="#bfcbd9"/><rect x="200" y="560" width="41" height="41" fill="#c1cddc"/><rect x="240" y="560" width="41" height="41" fill="#c2cede"/><rect x="280" y="560" width="41" height="41" fill="#c2cedf"/><rect x="320" y="560" width="41" height="41" fill="#c2cee0"/><rect x="360" y="560" width="41" height="41" fill="#c2cde0"/><rect x="400" y="560" width="41" height="41" fill="#c1cce0"/><rect x="440" y="560" width="41" height="41" fill="#c1cce0"/><rect x="480" y="560" width="41" height="41" fill="#c1cce0"/><rect x="520" y="560" width="41" height="41" fill="#c1ccdf"/><rect x="560" y="560" width="41" height="41" fill="#c1ccdf"/><rect x="600" y="560" width="41" height="41" fill="#c1cdde"/><rect x="640" y="560" width="41" height="41" fill="#c1cddd"/><rect x="680" y="560" width="41" height="41" fill="#c1cddc"/><rect x="720" y="560" width="41" height="41" fill="#c1cdda"/><rect x="760" y="560" width="41" height="41" fill="#c2ccd8"/><rect x="800" y="560" width="41" height="41" fill="#c2ccd4"/><rect x="840" y="560" width="41" height="41" fill="#c0cbd0"/><rect x="880" y="560" width="41" height="41" fill="#bcc8ca"/><rect x="920" y="560" width="41" height="41" fill="#b6c3c3"/><rect x="960" y="560" width="41" height="41" fill="#afbdba"/><rect x="1000" y="560" width="41" height="41" fill="#a8b5b0"/><rect x="1040" y="560" width="41" height="41" fill="#a2ada6"/><rect x="1080" y="560" width="41" height="41" fill="#9fa9a2"/><rect x="1120" y="560" width="41" height="41" fill="#9fa9a2"/><rect x="-80" y="600" width="41" height="41" fill="#abb8c0"/><rect x="-40" y="600" width="41" height="41" fill="#abb8c0"/><rect x="0" y="600" width="41" height="41" fill="#acb9c2"/><rect x="40" y="600" width="41" height="41" fill="#b0bdc6"/><rect x="80" y="600" width="41" height="41" fill="#b4c0cb"/><rect x="120" y="600" width="41" height="41" fill="#b7c4d0"/><rect x="160" y="600" width="41" height="41" fill="#bbc7d5"/><rect x="200" y="600" width="41" height="41" fill="#bdc9d8"/><rect x="240" y="600" width="41" height="41" fill="#becada"/><rect x="280" y="600" width="41" height="41" fill="#becadb"/><rect x="320" y="600" width="41" height="41" fill="#bec9db"/><rect x="360" y="600" width="41" height="41" fill="#bdc8db"/><rect x="400" y="600" width="41" height="41" fill="#bdc8db"/><rect x="440" y="600" width="41" height="41" fill="#bdc8db"/><rect x="480" y="600" width="41" height="41" fill="#bdc8db"/><rect x="520" y="600" width="41" height="41" fill="#bdc8db"/><rect x="560" y="600" width="41" height="41" fill="#bdc8db"/><rect x="600" y="600" width="41" height="41" fill="#bdc9da"/><rect x="640" y="600" width="41" height="41" fill="#bec9d9"/><rect x="680" y="600" width="41" height="41" fill="#bec9d7"/><rect x="720" y="600" width="41" height="41" fill="#bec9d5"/><rect x="760" y="600" width="41" height="41" fill="#bec9d3"/><rect x="800" y="600" width="41" height="41" fill="#bec8cf"/><rect x="840" y="600" width="41" height="41" fill="#bcc7cb"/><rect x="880" y="600" width="41" height="41" fill="#b8c4c5"/><rect x="920" y="600" width="41" height="41" fill="#b2bfbe"/><rect x="960" y="600" width="41" height="41" fill="#abb9b4"/><rect x="1000" y="600" width="41" height="41" fill="#a4b1ab"/><rect x="1040" y="600" width="41" height="41" fill="#9ea9a1"/><rect x="1080" y="600" width="41" height="41" fill="#9ca69d"/><rect x="1120" y="600" width="41" height="41" fill="#9ca69d"/><rect x="-80" y="640" width="41" height="41" fill="#a8b5bd"/><rect x="-40" y="640" width="41" height="41" fill="#a8b5bd"/><rect x="0" y="640" width="41" height="41" fill="#a9b7bf"/><rect x="40" y="640" width="41" height="41" fill="#acbac3"/><rect x="80" y="640" width="41" height="41" fill="#b0bdc8"/><rect x="120" y="640" width="41" height="41" fill="#b4c0cd"/><rect x="160" y="640" width="41" height="41" fill="#b7c3d1"/><rect x="200" y="640" width="41" height="41" fill="#b9c5d4"/><rect x="240" y="640" width="41" height="41" fill="#bac6d6"/><rect x="280" y="640" width="41" height="41" fill="#bac6d7"/><rect x="320" y="640" width="41" height="41" fill="#bac6d7"/><rect x="360" y="640" width="41" height="41" fill="#bac5d7"/><rect x="400" y="640" width="41" height="41" fill="#bac5d8"/><rect x="440" y="640" width="41" height="41" fill="#bac5d8"/><rect x="480" y="640" width="41" height="41" fill="#bac5d8"/><rect x="520" y="640" width="41" height="41" fill="#bac5d8"/><rect x="560" y="640" width="41" height="41" fill="#bac5d7"/><rect x="600" y="640" width="41" height="41" fill="#bac5d6"/><rect x="640" y="640" width="41" height="41" fill="#bac5d5"/><rect x="680" y="640" width="41" height="41" fill="#bbc6d3"/><rect x="720" y="640" width="41" height="41" fill="#bbc5d1"/><rect x="760" y="640" width="41" height="41" fill="#bac5ce"/><rect x="800" y="640" width="41" height="41" fill="#bac5cb"/><rect x="840" y="640" width="41" height="41" fill="#b8c3c6"/><rect x="880" y="640" width="41" height="41" fill="#b4c0c0"/><rect x="920" y="640" width="41" height="41" fill="#afbbb9"/><rect x="960" y="640" width="41" height="41" fill="#a8b5b0"/><rect x="1000" y="640" width="41" height="41" fill="#a2aea7"/><rect x="1040" y="640" width="41" height="41" fill="#9ca79e"/><rect x="1080" y="640" width="41" height="41" fill="#99a49a"/><rect x="1120" y="640" width="41" height="41" fill="#99a49a"/><rect x="-80" y="680" width="41" height="41" fill="#a8b5bd"/><rect x="-40" y="680" width="41" height="41" fill="#a8b5bd"/><rect x="0" y="680" width="41" height="41" fill="#a9b7bf"/><rect x="40" y="680" width="41" height="41" fill="#acbac3"/><rect x="80" y="680" width="41" height="41" fill="#b0bdc8"/><rect x="120" y="680" width="41" height="41" fill="#b4c0cd"/><rect x="160" y="680" width="41" height="41" fill="#b7c3d1"/><rect x="200" y="680" width="41" height="41" fill="#b9c5d4"/><rect x="240" y="680" width="41" height="41" fill="#bac6d6"/><rect x="280" y="680" width="41" height="41" fill="#bac6d7"/><rect x="320" y="680" width="41" height="41" fill="#bac6d7"/><rect x="360" y="680" width="41" height="41" fill="#bac5d7"/><rect x="400" y="680" width="41" height="41" fill="#bac5d8"/><rect x="440" y="680" width="41" height="41" fill="#bac5d8"/><rect x="480" y="680" width="41" height="41" fill="#bac5d8"/><rect x="520" y="680" width="41" height="41" fill="#bac5d8"/><rect x="560" y="680" width="41" height="41" fill="#bac5d7"/><rect x="600" y="680" width="41" height="41" fill="#bac5d6"/><rect x="640" y="680" width="41" height="41" fill="#bac5d5"/><rect x="680" y="680" width="41" height="41" fill="#bbc6d3"/><rect x="720" y="680" width="41" height="41" fill="#bbc5d1"/><rect x="760" y="680" width="41" height="41" fill="#bac5ce"/><rect x="800" y="680" width="41" height="41" fill="#bac5cb"/><rect x="840" y="680" width="41" height="41" fill="#b8c3c6"/><rect x="880" y="680" width="41" height="41" fill="#b4c0c0"/><rect x="920" y="680" width="41" height="41" fill="#afbbb9"/><rect x="960" y="680" width="41" height="41" fill="#a8b5b0"/><rect x="1000" y="680" width="41" height="41" fill="#a2aea7"/><rect x="1040" y="680" width="41" height="41" fill="#9ca79e"/><rect x="1080" y="680" width="41" height="41" fill="#99a49a"/><rect x="1120" y="680" width="41" height="41" fill="#99a49a"/><rect x="-80" y="720" width="41" height="41" fill="#a8b5bd"/><rect x="-40" y="720" width="41" height="41" fill="#a8b5bd"/><rect x="0" y="720" width="41" height="41" fill="#a9b7bf"/><rect x="40" y="720" width="41" height="41" fill="#acbac3"/><rect x="80" y="720" width="41" height="41" fill="#b0bdc8"/><rect x="120" y="720" width="41" height="41" fill="#b4c0cd"/><rect x="160" y="720" width="41" height="41" fill="#b7c3d1"/><rect x="200" y="720" width="41" height="41" fill="#b9c5d4"/><rect x="240" y="720" width="41" height="41" fill="#bac6d6"/><rect x="280" y="720" width="41" height="41" fill="#bac6d7"/><rect x="320" y="720" width="41" height="41" fill="#bac6d7"/><rect x="360" y="720" width="41" height="41" fill="#bac5d7"/><rect x="400" y="720" width="41" height="41" fill="#bac5d8"/><rect x="440" y="720" width="41" height="41" fill="#bac5d8"/><rect x="480" y="720" width="41" height="41" fill="#bac5d8"/><rect x="520" y="720" width="41" height="41" fill="#bac5d8"/><rect x="560" y="720" width="41" height="41" fill="#bac5d7"/><rect x="600" y="720" width="41" height="41" fill="#bac5d6"/><rect x="640" y="720" width="41" height="41" fill="#bac5d5"/><rect x="680" y="720" width="41" height="41" fill="#bbc6d3"/><rect x="720" y="720" width="41" height="41" fill="#bbc5d1"/><rect x="760" y="720" width="41" height="41" fill="#bac5ce"/><rect x="800" y="720" width="41" height="41" fill="#bac5cb"/><rect x="840" y="720" width="41" height="41" fill="#b8c3c6"/><rect x="880" y="720" width="41" height="41" fill="#b4c0c0"/><rect x="920" y="720" width="41" height="41" fill="#afbbb9"/><rect x="960" y="720" width="41" height="41" fill="#a8b5b0"/><rect x="1000" y="720" width="41" height="41" fill="#a2aea7"/><rect x="1040" y="720" width="41" height="41" fill="#9ca79e"/><rect x="1080" y="720" width="41" height="41" fill="#99a49a"/><rect x="1120" y="720" width="41" height="41" fill="#99a49a"/></g></g>
<polygon points="-40.0,8.4 0.0,10.0 135.0,14.0 230.0,19.0 330.0,24.5 490.0,34.0 590.0,37.8 760.0,46.9 860.0,50.6 980.0,57.0 1080.0,63.0 1120.0,65.4 1120.0,68.6 1080.0,66.2 980.0,60.2 860.0,53.8 760.0,50.1 590.0,41.0 490.0,37.2 330.0,27.7 230.0,22.2 135.0,17.2 0.0,13.2 -40.0,11.6" fill="url(#edge)" opacity=".85"/>
<polygon points="1080.5,524.0 1066.5,653.0 1062.0,693.0 1120.0,693.0 1120.0,524.0" fill="#1c1e16"/>
<polygon points="4.5,26.0 22.5,26.5 25.0,117.0 7.5,117.0" fill="#112f4a"/>
<path d="M6.3 213.0C5.9 200.3 15.8 190.3 28.5 190.6L308.0 197.4C320.7 197.7 331.2 208.3 331.4 221.0L332.8 307.0C333.0 319.7 322.9 329.9 310.2 329.8L33.5 327.7C20.8 327.6 10.1 317.2 9.7 304.5Z" fill="url(#b1)"/>
<path d="M434.7 224.0C434.6 211.8 444.3 202.3 456.5 202.6L699.0 208.9C711.2 209.2 720.7 219.3 720.4 231.5L718.1 310.0C717.8 322.2 707.7 332.0 695.5 331.9L457.5 331.1C445.3 331.0 435.4 321.2 435.3 309.0Z" fill="url(#b2)"/>
<path d="M814.3 233.0C815.0 221.4 824.9 212.2 836.5 212.4L1054.5 217.1C1066.1 217.3 1074.9 226.9 1074.1 238.5L1068.9 314.0C1068.1 325.6 1058.1 334.9 1046.5 334.8L829.5 332.7C817.9 332.6 809.0 323.1 809.7 311.5Z" fill="url(#b3)"/>
<path d="M798.6 469.0C799.1 458.2 808.2 449.4 819.0 449.3L1033.0 447.2C1043.8 447.1 1051.8 455.7 1051.0 466.4L1045.5 536.6C1044.7 547.3 1035.3 556.2 1024.5 556.5L814.0 562.0C803.2 562.3 794.9 553.8 795.4 543.0Z" fill="url(#b4)"/>
<path d="M405.5 473.0C405.5 461.7 414.7 452.4 426.0 452.3L690.5 450.2C701.8 450.1 710.7 459.2 710.3 470.5L707.7 544.0C707.3 555.3 697.8 564.8 686.5 565.1L426.0 572.4C414.7 572.7 405.5 563.8 405.5 552.5Z" fill="url(#b5)"/>
<polygon points="346.0,253.5 397.5,255.0 397.5,241.8 422.0,266.8 397.5,291.0 397.5,279.0 346.0,278.5" fill="#12508c"/>
<polygon points="731.0,260.5 777.0,261.5 777.0,249.0 799.0,272.5 776.0,295.0 776.0,283.5 731.0,283.0" fill="#1d5c94"/>
<polygon points="925.5,364.0 946.0,364.0 942.5,409.5 952.5,409.5 930.0,431.0 911.0,409.5 922.5,409.5" fill="#1f5a8b"/>
<polygon points="720.5,507.5 742.0,486.0 742.0,496.0 786.0,496.0 786.0,517.0 740.0,519.0 740.0,529.0" fill="#205f94"/>
<text transform="translate(38.51 75.70) rotate(2.2)" font-size="50.5" fill="#15294a" stroke="#15294a" stroke-width="0.3" stroke-linejoin="round" y="0" x="0 52.16 103.59 154.36 216.87 253.90 302.70 350.86 398.43 445.44 491.74 537.53">合法手续，完整的交易流程</text>
<text transform="translate(45.33 134.77) rotate(1.34)" font-size="47.2" fill="#e8ba2c" stroke="#e8ba2c" stroke-width="0.3" stroke-linejoin="round" y="0" x="0 26.48 52.77 78.90">100%</text>
<text transform="translate(167.35 140.40) rotate(1.9)" font-size="50.4" fill="#e8ba2c" stroke="#e8ba2c" stroke-width="0.4" stroke-linejoin="round" y="0" x="0 50.06 102.34 148.25 196.38">放心、安全</text>
<text transform="translate(45.06 255.14) rotate(1.11)" font-size="29.3" fill="#e2ebf8" stroke="#e2ebf8" stroke-width="0.09" stroke-linejoin="round" y="0" x="0 28.72 57.23 85.53 115.41 141.46 169.11 196.56 223.79">项目立项、资金担保</text>
<text transform="translate(118.82 295.12) rotate(1.04)" font-size="29.1" fill="#e2ebf8" stroke="#e2ebf8" stroke-width="0.09" stroke-linejoin="round" y="0" x="0 28.00 55.78 83.34">全面开工</text>
<text transform="translate(474.98 280.16) rotate(1.0)" font-size="24.8" fill="#e2ebf8" stroke="#e2ebf8" stroke-width="0.08" stroke-linejoin="round" y="0" x="0 24.20 48.25 72.14 96.5 105.79 130.0 139.15 163.2 172.23 196.0">土地性质“集”转“国”</text>
<text transform="translate(841.58 251.61) rotate(0.45)" font-size="24" fill="#e2ebf8" y="0" x="0 23.13 46.15 69.04 97.60 114.44 136.97 159.32 181.59">身份流转，析产分割</text>
<text transform="translate(840.11 285.89) rotate(0.33)" font-size="23.8" fill="#e2ebf8" y="0" x="0 22.93 45.72 68.40 90.94 107.79 135.65 157.85 185.34">开发商拆补（现房）</text>
<text transform="translate(849.43 320.05) rotate(0.31)" font-size="23.5" fill="#e2ebf8" y="0" x="0 22.66 45.20 67.62 84.38 112.10 134.16 161.50">村委盖章（期房）</text>
<text transform="translate(824.16 518.01) rotate(-0.95)" font-size="22.8" fill="#e2ebf8" y="0" x="0 22.14 44.18 66.09 93.38 109.58 131.11 152.59 173.89">封顶摇号，确认房号</text>
<text transform="translate(512.06 506.70) rotate(-0.70)" font-size="25" fill="#e2ebf8" y="0" x="0 23.96 47.81 71.52">准时收楼</text>
<text transform="translate(512.36 541.79) rotate(-1.76)" font-size="24.6" fill="#e2ebf8" y="0" x="0 23.63 47.12 70.46">坐等出证</text>
<text transform="translate(22.29 365.53) rotate(0.13)" font-size="34" fill="#0e0f14" stroke="#0e0f14" stroke-width="0.2" stroke-linejoin="round" y="0" x="0 34.13 67.99 101.52 136.69 167.69 200.32 232.67 264.74">准时交楼、绝无烂尾</text>
<text transform="translate(490.07 365.40) rotate(0.04)" font-size="29.6" fill="#0e0f14" stroke="#0e0f14" stroke-width="0.18" stroke-linejoin="round" y="0" x="0 29.23 58.25 87.07 115.65 144.02">出不动产权证</text>
<text transform="translate(429.57 604.61) rotate(-1.32)" font-size="29" fill="#0e0f14" stroke="#0e0f14" stroke-width="0.18" stroke-linejoin="round" y="0" x="0 28.90 57.53 85.98 121.19 142.27 170.09 197.73 225.19">一房一证，即可交易</text>
<g filter="url(#smudge)"><ellipse cx="91" cy="52" rx="8.5" ry="6" fill="#dde5f1" transform="rotate(25 91 52)"/><ellipse cx="211" cy="54" rx="8.5" ry="6.5" fill="#d9e1ee" transform="rotate(20 211 54)"/></g>
<path d="M571 40 Q600 54 686 45" fill="none" stroke="#f4f7fc" stroke-width="4" opacity=".8" filter="url(#smudge)"/>
</g>
</svg>
<div class="t" style="left:39.1px;top:31.9px;font-size:48.6px;transform:rotate(2.49deg)">合法手续，完整的交易流程</div>
<div class="t" style="left:44.8px;top:93.4px;font-size:47.2px;transform:rotate(1.65deg)">100%放心、安全</div>
<div class="t" style="left:45.4px;top:230.1px;font-size:27.9px;transform:rotate(1.28deg)">项目立项、资金担保</div>
<div class="t" style="left:119.3px;top:270.4px;font-size:27.7px;transform:rotate(1.21deg)">全面开工</div>
<div class="t" style="left:475.8px;top:258.9px;font-size:23.6px;transform:rotate(1.14deg)">土地性质“集”转“国”</div>
<div class="t" style="left:842.8px;top:231.1px;font-size:22.7px;transform:rotate(0.58deg)">身份流转，析产分割</div>
<div class="t" style="left:841.3px;top:265.5px;font-size:22.5px;transform:rotate(0.46deg)">开发商拆补（现房）</div>
<div class="t" style="left:850.6px;top:299.8px;font-size:22.3px;transform:rotate(0.43deg)">村委盖章（期房）</div>
<div class="t" style="left:825.2px;top:498.2px;font-size:21.7px;transform:rotate(-0.83deg)">封顶摇号，确认房号</div>
<div class="t" style="left:512.9px;top:485.1px;font-size:23.8px;transform:rotate(-0.56deg)">准时收楼</div>
<div class="t" style="left:513.1px;top:520.3px;font-size:23.4px;transform:rotate(-1.62deg)">坐等出证</div>
<div class="t" style="left:22.4px;top:335.8px;font-size:33.0px;transform:rotate(0.33deg)">准时交楼、绝无烂尾</div>
<div class="t" style="left:490.8px;top:339.6px;font-size:28.7px;transform:rotate(0.20deg)">出不动产权证</div>
<div class="t" style="left:430.2px;top:579.0px;font-size:28.1px;transform:rotate(-1.15deg)">一房一证，即可交易</div>
</body></html>
